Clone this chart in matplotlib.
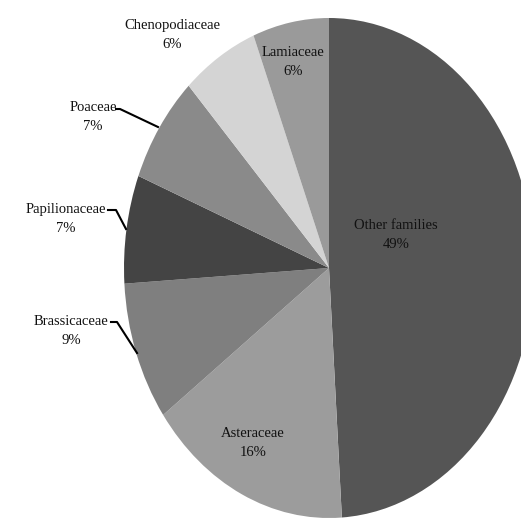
import matplotlib
matplotlib.use("Agg")
import matplotlib.pyplot as plt

families = ["Other families", "Asteraceae", "Brassicaceae", "Papilionaceae",
            "Poaceae", "Chenopodiaceae", "Lamiaceae"]
percents = [49, 16, 9, 7, 7, 6, 6]
colors = ["#555555", "#9c9c9c", "#7f7f7f", "#444444", "#8a8a8a", "#d4d4d4", "#9a9a9a"]

plt.rcParams['font.family'] = ['Liberation Serif', 'DejaVu Serif']

W, H = 521, 520
fig = plt.figure(figsize=(W / 100, H / 100), dpi=100)
# pie bounding box in pixels: x 124..534, y 18..518 (image coords)
left, right, top, bottom = 124, 534, 18, 518
ax = fig.add_axes([left / W, (H - bottom) / H, (right - left) / W, (bottom - top) / H])
ax.set_axis_off()

wedges, _ = ax.pie(percents, colors=colors, startangle=90, counterclock=False,
                   radius=1.0, wedgeprops=dict(linewidth=0))
ax.set_aspect('auto')
ax.set_xlim(-1, 1)
ax.set_ylim(-1, 1)


def px(x, y):
    """convert image pixel coords to figure fraction"""
    return x / W, (H - y) / H


label_pos = {
    "Other families": (396, 235),
    "Asteraceae": (253, 443),
    "Brassicaceae": (71, 331),
    "Papilionaceae": (66, 219),
    "Poaceae": (93, 117),
    "Chenopodiaceae": (172, 35),
    "Lamiaceae": (293, 62),
}
for name, p in zip(families, percents):
    x, y = label_pos[name]
    fig.text(*px(x, y), f"{name}\n{p}%", ha='center', va='center',
             fontsize=10.5, color='#111111', linespacing=1.6)

leaders = {
    "Poaceae": [(116, 109), (120, 109), (158, 127)],
    "Papilionaceae": [(108, 210), (116, 210), (126, 229)],
    "Brassicaceae": [(111, 322), (117, 322), (137, 353)],
}
for name, pts in leaders.items():
    xs = [px(a, b)[0] for a, b in pts]
    ys = [px(a, b)[1] for a, b in pts]
    fig.add_artist(plt.Line2D(xs, ys, color='black', linewidth=1.5,
                              transform=fig.transFigure))

fig.savefig("out.png", dpi=100)
